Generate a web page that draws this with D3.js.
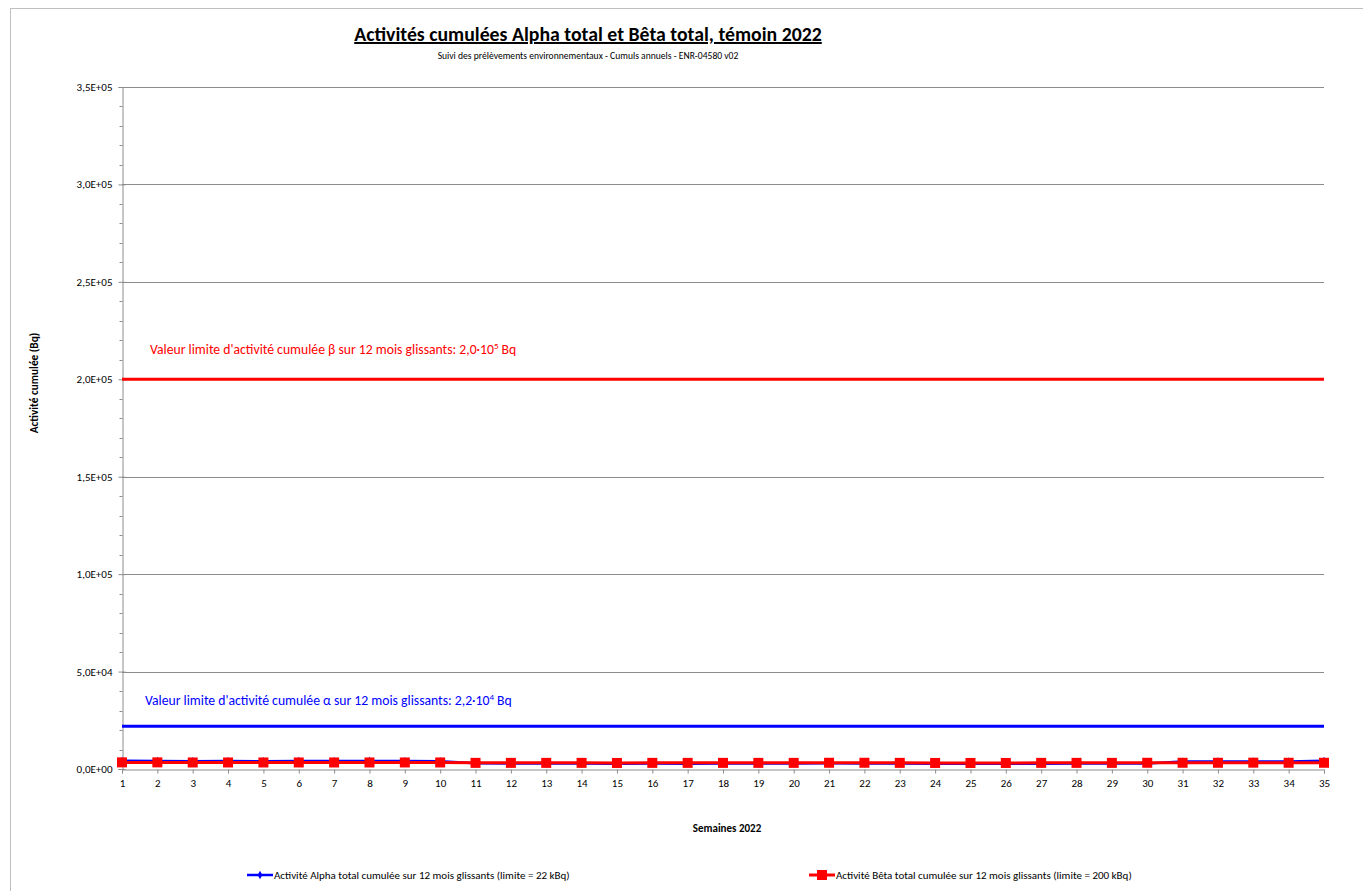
<!DOCTYPE html>
<html><head><meta charset="utf-8">
<script src="https://cdn.jsdelivr.net/npm/d3@7"></script>
<style>body{margin:0;background:#fff}svg{display:block;font-family:Carlito,Lato,"Liberation Sans",sans-serif}</style>
</head><body><svg id="c" width="1363" height="891"></svg>
<script>
const weeks = d3.range(1, 36);
const alphaValues = [4200,4100,4000,4050,4000,4100,4050,4100,4050,4000,2900,2850,2800,2800,2750,2800,2750,2800,2800,2850,2900,2850,2800,2750,2750,2700,2750,2800,2800,2850,3800,3850,3900,3850,4200];
const betaValues = [3400,3400,3350,3350,3350,3350,3350,3350,3350,3350,3150,3150,3150,3150,3100,3150,3150,3150,3150,3150,3200,3200,3150,3100,3100,3100,3150,3150,3150,3200,3200,3200,3250,3200,3200];
const alphaLimit = 22000;
const betaLimit = 200000;
const yTicks = [0,50000,100000,150000,200000,250000,300000,350000];
const yTickLabels = ["0,0E+00","5,0E+04","1,0E+05","1,5E+05","2,0E+05","2,5E+05","3,0E+05","3,5E+05"];
const title = "Activités cumulées Alpha total et Bêta total, témoin 2022";
const subtitle = "Suivi des prélèvements environnementaux - Cumuls annuels - ENR-04580 v02";
const yTitle = "Activité cumulée (Bq)";
const xTitle = "Semaines 2022";
const alphaName = "Activité Alpha total cumulée sur 12 mois glissants (limite = 22 kBq)";
const betaName = "Activité Bêta total cumulée sur 12 mois glissants (limite = 200 kBq)";

const svg = d3.select("#c");
const FF = 'Carlito,Lato,"Liberation Sans",sans-serif';
const L = 122, R = 1324, T = 87, B = 769;
const x = d3.scaleLinear().domain([1,35]).range([L,R]);
const y = d3.scaleLinear().domain([0,350000]).range([B,T]);
const grid = "#8c8c8c";

// outer border
svg.append("rect").attr("x",10.5).attr("y",8.5).attr("width",1360).attr("height",900).attr("fill","none").attr("stroke","#bfbfbf");

// gridlines
svg.append("g").selectAll("line").data(yTicks.slice(1)).join("line")
  .attr("x1",L).attr("x2",R).attr("y1",d=>Math.round(y(d))+0.5).attr("y2",d=>Math.round(y(d))+0.5)
  .attr("stroke",grid).attr("stroke-width",1);

// y axis
const yAx = svg.append("g").attr("transform",`translate(${L+0.5},0)`)
  .call(d3.axisLeft(y).tickValues(yTicks).tickFormat((d,i)=>yTickLabels[i]).tickSize(4).tickPadding(6))
  .attr("font-family",FF).attr("font-size",11);
yAx.select(".domain").attr("stroke",grid);
yAx.selectAll(".tick line").attr("stroke",grid).attr("x2",-4).attr("x1",3);
yAx.selectAll("text").attr("fill","#000");
svg.append("g").attr("transform",`translate(${L+0.5},0)`).selectAll("line")
  .data(d3.range(0,350001,10000).filter(v=>v%50000!==0)).join("line")
  .attr("x1",-3).attr("x2",0).attr("y1",d=>Math.round(y(d))+0.5).attr("y2",d=>Math.round(y(d))+0.5).attr("stroke",grid);

// x axis
const xAx = svg.append("g").attr("transform",`translate(0,${B+0.5})`)
  .call(d3.axisBottom(x).tickValues(weeks).tickFormat(d3.format("d")).tickSize(4).tickPadding(6))
  .attr("font-family",FF).attr("font-size",11);
xAx.select(".domain").attr("stroke",grid);
xAx.selectAll(".tick line").attr("stroke",grid);
xAx.selectAll("text").attr("fill","#000");

// limit lines
svg.append("line").attr("x1",x(1)).attr("x2",x(35)).attr("y1",y(betaLimit)).attr("y2",y(betaLimit)).attr("stroke","#ff0000").attr("stroke-width",3);
svg.append("line").attr("x1",x(1)).attr("x2",x(35)).attr("y1",y(alphaLimit)).attr("y2",y(alphaLimit)).attr("stroke","#0000ff").attr("stroke-width",3);

// limit labels
const bl = svg.append("text").attr("x",150).attr("y",354).attr("font-size",13.7).attr("fill","#ff0000");
bl.append("tspan").text("Valeur limite d'activité cumulée β sur 12 mois glissants: 2,0·10");
bl.append("tspan").attr("font-size",9).attr("dy",-5).text("5");
bl.append("tspan").attr("dy",5).text(" Bq");
const al = svg.append("text").attr("x",145).attr("y",705).attr("font-size",13.7).attr("fill","#0000ff");
al.append("tspan").text("Valeur limite d'activité cumulée α sur 12 mois glissants: 2,2·10");
al.append("tspan").attr("font-size",9).attr("dy",-5).text("4");
al.append("tspan").attr("dy",5).text(" Bq");

// series
const line = d3.line().x((d,i)=>x(weeks[i])).y(d=>y(d));
svg.append("path").datum(alphaValues).attr("d",line).attr("fill","none").attr("stroke","#0000ff").attr("stroke-width",2.5);
svg.append("g").selectAll("path").data(alphaValues).join("path")
  .attr("d",d3.symbol(d3.symbolDiamond,20)).attr("transform",(d,i)=>`translate(${x(weeks[i])},${y(d)})`).attr("fill","#0000ff");
svg.append("path").datum(betaValues).attr("d",line).attr("fill","none").attr("stroke","#ff0000").attr("stroke-width",3);
svg.append("g").selectAll("rect").data(betaValues).join("rect")
  .attr("x",(d,i)=>x(weeks[i])-5).attr("y",d=>y(d)-5).attr("width",10).attr("height",10).attr("fill","#ff0000");

// titles
svg.append("text").attr("x",588).attr("y",41).attr("text-anchor","middle").attr("font-size",19.8).attr("font-weight","bold").attr("text-decoration","underline").text(title);
svg.append("text").attr("x",588).attr("y",59).attr("text-anchor","middle").attr("font-size",9.6).text(subtitle);
svg.append("text").attr("transform","translate(38,383) rotate(-90)").attr("text-anchor","middle").attr("font-size",11.3).attr("font-weight","bold").text(yTitle);
svg.append("text").attr("x",727).attr("y",832).attr("text-anchor","middle").attr("font-size",11).attr("font-weight","bold").text(xTitle);

// legend
const lg1 = svg.append("g");
lg1.append("line").attr("x1",247).attr("x2",273).attr("y1",875).attr("y2",875).attr("stroke","#0000ff").attr("stroke-width",2.5);
lg1.append("path").attr("d",d3.symbol(d3.symbolDiamond,20)).attr("transform","translate(260,875)").attr("fill","#0000ff");
lg1.append("text").attr("x",274).attr("y",879).attr("font-size",11).text(alphaName);
const lg2 = svg.append("g");
lg2.append("line").attr("x1",809).attr("x2",835).attr("y1",875).attr("y2",875).attr("stroke","#ff0000").attr("stroke-width",3);
lg2.append("rect").attr("x",817).attr("y",870).attr("width",10).attr("height",10).attr("fill","#ff0000");
lg2.append("text").attr("x",836).attr("y",879).attr("font-size",11).text(betaName);
</script></body></html>
